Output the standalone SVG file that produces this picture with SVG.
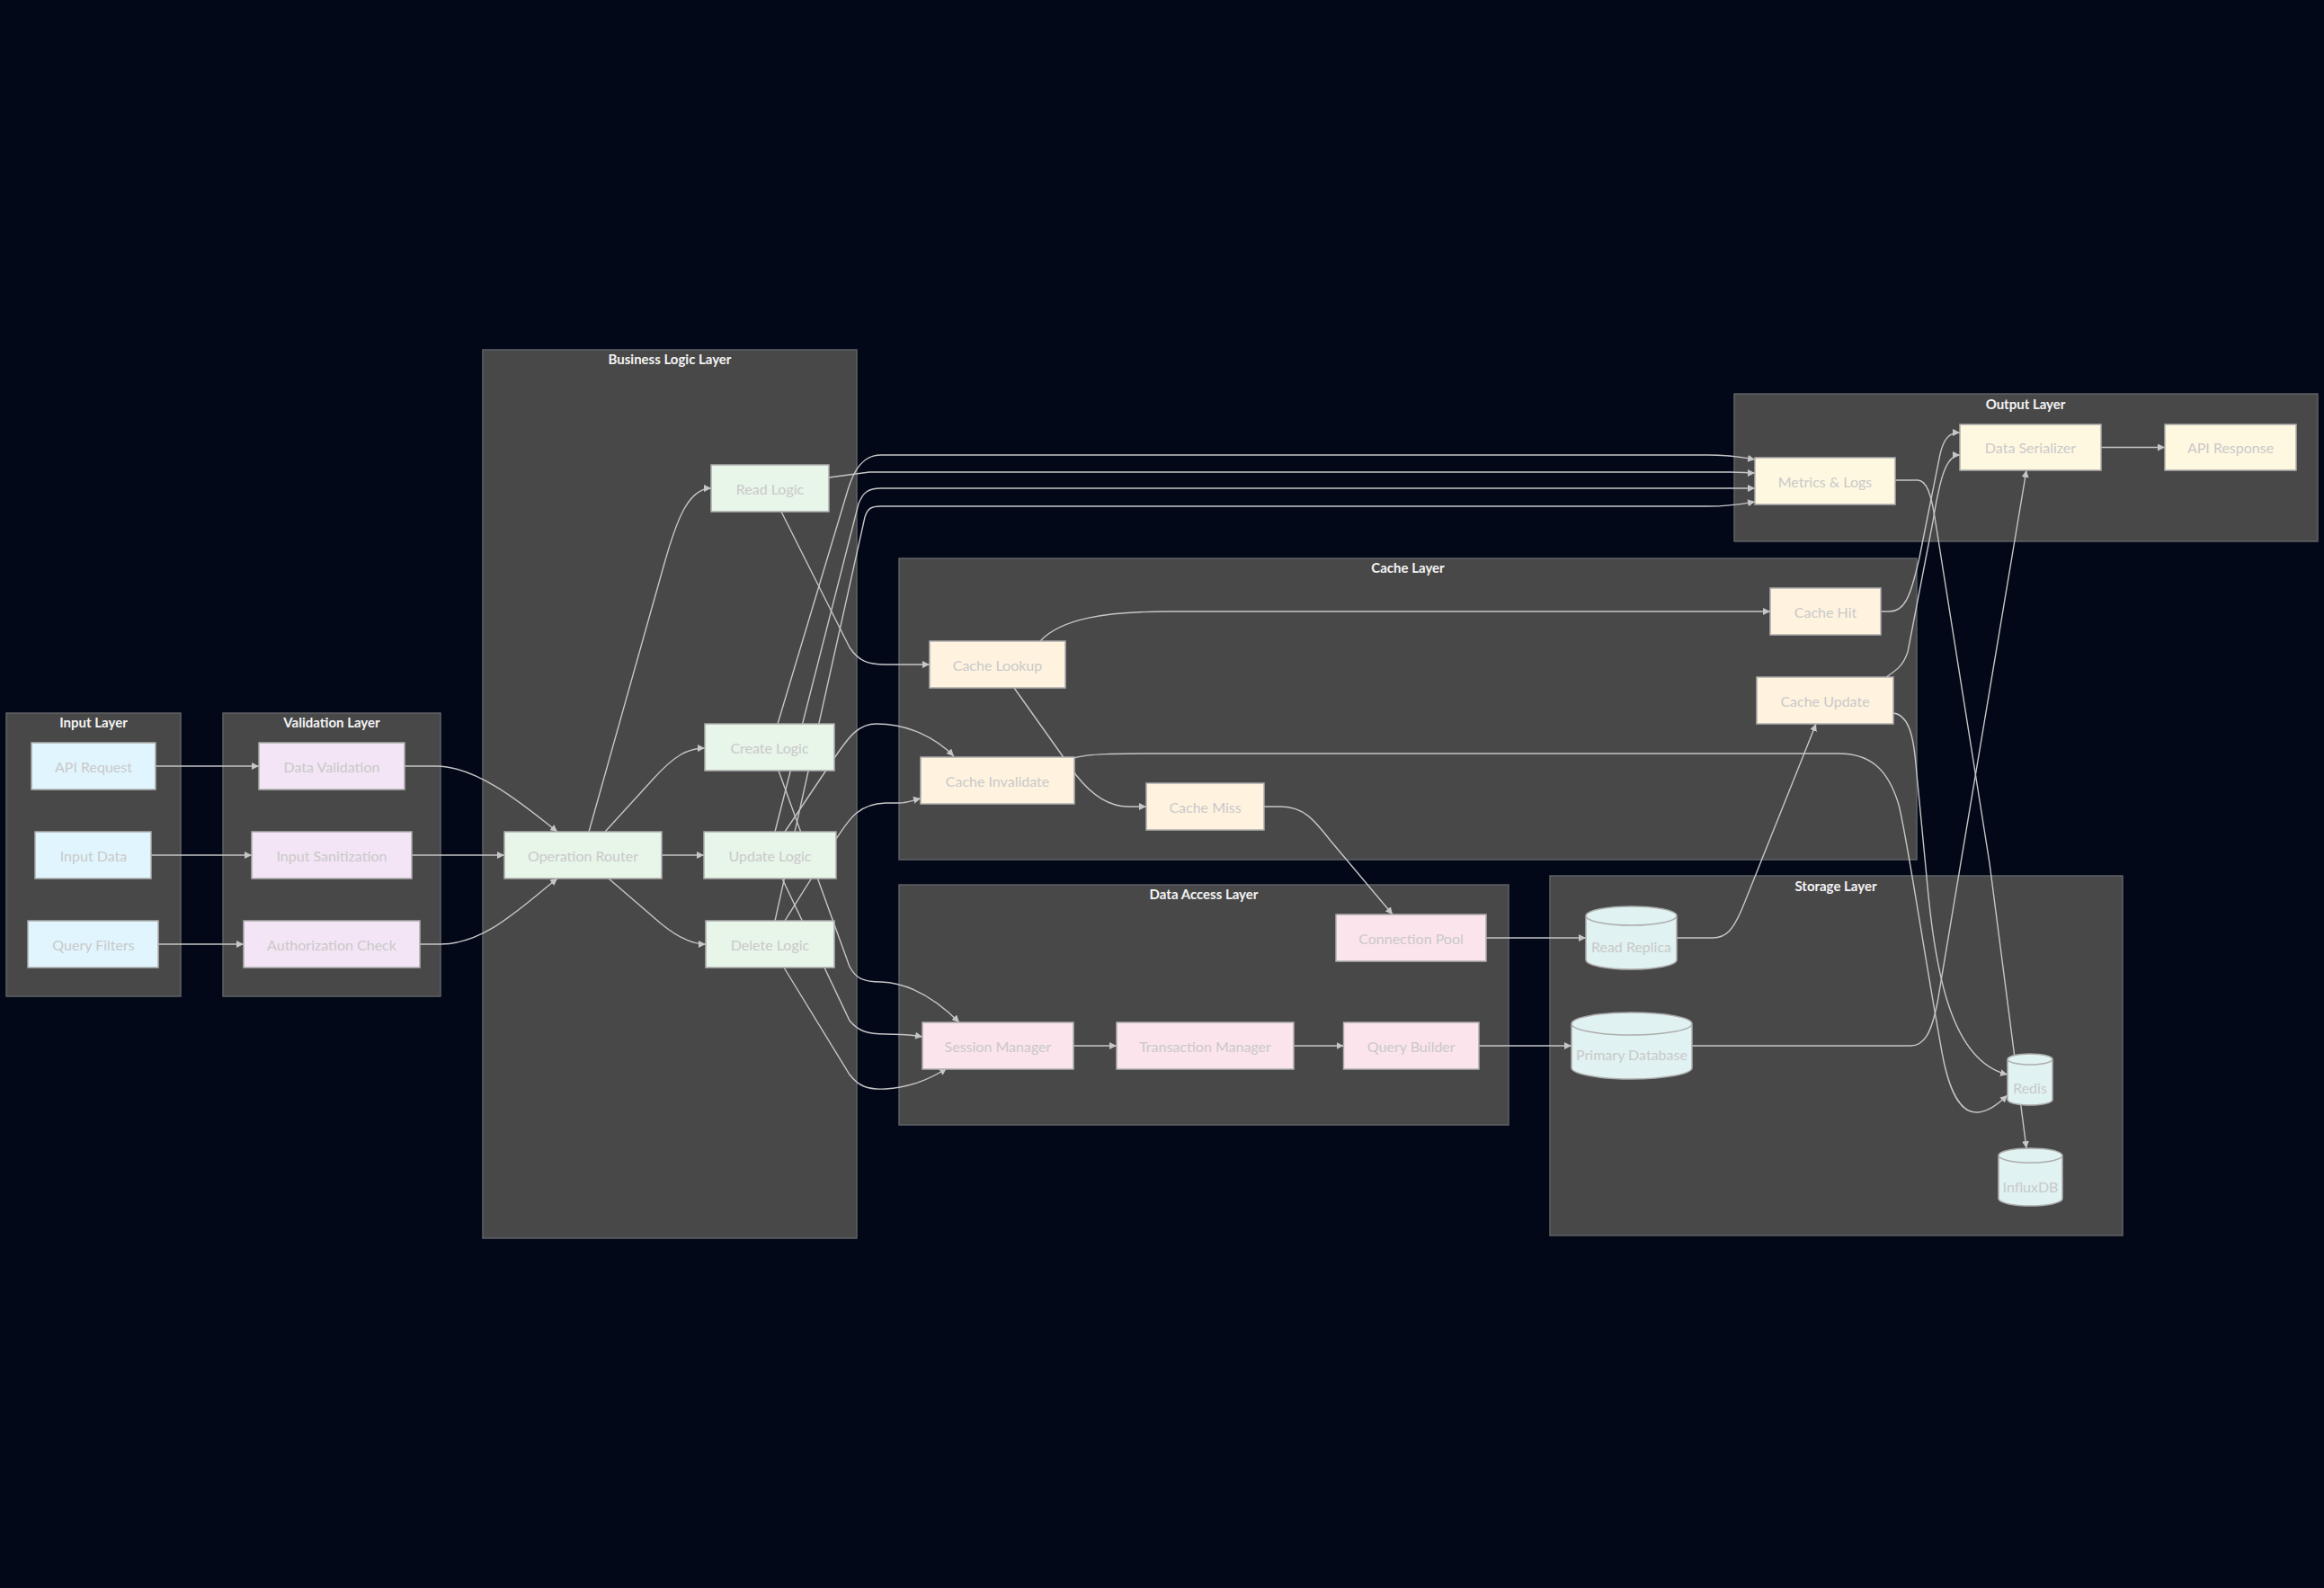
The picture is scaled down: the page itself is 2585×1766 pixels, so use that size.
<svg xmlns="http://www.w3.org/2000/svg" width="2585" height="1766" viewBox="0 0 2585 1766">
  <style>
    .cluster rect { fill: #484848; stroke: #5f6066; stroke-width: 1.5; }
    .cluster text { fill: #f4f4f4; font-family: Lato, "Liberation Sans", sans-serif; font-size: 15px; font-weight: bold; text-anchor: middle; }
    .node rect, .node path { stroke: #adadad; stroke-width: 1.5; }
    .node text { fill: #c9c9c9; font-family: Lato, "Liberation Sans", sans-serif; font-size: 16px; text-anchor: middle; dominant-baseline: central; }
    .input rect { fill: #e1f5fe; }
    .valid rect { fill: #f3e5f5; }
    .biz rect { fill: #e8f5e9; }
    .cache rect { fill: #fff3e0; }
    .dal rect { fill: #fce4ec; }
    .store path { fill: #e0f2f1; }
    .out rect { fill: #fff8e1; }
    .edges path { fill: none; stroke: #c6c6c6; stroke-width: 1.4; marker-end: url(#arrow); }
  </style>
  <defs>
    <marker id="arrow" viewBox="0 0 10 10" refX="10" refY="5" markerUnits="userSpaceOnUse" markerWidth="8" markerHeight="8" orient="auto">
      <path d="M0,0 L10,5 L0,10 z" fill="#c6c6c6"/>
    </marker>
  </defs>

  <rect width="2585" height="1766" fill="#020817"/>

  <!-- layer boxes -->
  <g id="clusters">
    <g class="cluster" id="input-layer">
      <rect x="7" y="793" width="194" height="315"/>
      <text x="104" y="809">Input Layer</text>
    </g>
    <g class="cluster" id="validation-layer">
      <rect x="248" y="793" width="242" height="315"/>
      <text x="369" y="809">Validation Layer</text>
    </g>
    <g class="cluster" id="business-layer">
      <rect x="537" y="389" width="416" height="988"/>
      <text x="745" y="405">Business Logic Layer</text>
    </g>
    <g class="cluster" id="cache-layer">
      <rect x="1000" y="621" width="1132" height="335"/>
      <text x="1566" y="637">Cache Layer</text>
    </g>
    <g class="cluster" id="data-access-layer">
      <rect x="1000" y="984" width="678" height="267"/>
      <text x="1339" y="1000">Data Access Layer</text>
    </g>
    <g class="cluster" id="storage-layer">
      <rect x="1724" y="974" width="637" height="400"/>
      <text x="2042" y="991">Storage Layer</text>
    </g>
    <g class="cluster" id="output-layer">
      <rect x="1929" y="438" width="649" height="164"/>
      <text x="2253" y="455">Output Layer</text>
    </g>
  </g>

  <!-- connectors -->
  <g class="edges" id="edges">
    <path d="M173,852 L288,852"/>
    <path d="M168,951 L280,951"/>
    <path d="M176,1050 L271,1050"/>
    <path d="M450,852 L485,852 C530,852 580,893 620,925"/>
    <path d="M458,951 L561,951"/>
    <path d="M467,1050 L490,1050 C540,1050 580,1008 620,977"/>
    <path d="M655,925 L738,630 C752,580 765,543 791,543"/>
    <path d="M673,925 L725,868 C750,840 765,832 784,832"/>
    <path d="M736,951 L783,951"/>
    <path d="M677,977 L735,1027 C752,1041 768,1050 785,1050"/>
    <path d="M869,569 L945,720 C955,735 965,739 985,739 L1034,739"/>
    <path d="M922,531 L967,525 L1925,525 C1935,525 1945,526 1952,526"/>
    <path d="M865,805 L943,545 C950,522 960,506 980,506 L1900,506 C1925,506 1940,509 1952,511"/>
    <path d="M862,925 L955,560 C960,548 965,543 980,543 L1952,543"/>
    <path d="M862,1024 L962,575 C965,566 968,563 980,563 L1900,563 C1925,563 1940,560 1952,558"/>
    <path d="M873,925 L928,843 C945,818 955,805 975,805 C1010,805 1040,820 1061,841"/>
    <path d="M873,1024 L930,933 C945,910 955,894 985,893 L1000,893 C1010,893 1015,890 1024,888"/>
    <path d="M866,857 L945,1075 C952,1088 960,1092 980,1092 C1010,1093 1040,1110 1067,1137"/>
    <path d="M870,977 L945,1135 C955,1147 965,1150 985,1150 C1000,1150 1015,1151 1026,1153"/>
    <path d="M872,1076 L945,1195 C955,1208 965,1212 985,1211 C1010,1210 1035,1200 1053,1188"/>
    <path d="M1194,1163 L1242,1163"/>
    <path d="M1439,1163 L1494.5,1163"/>
    <path d="M1157,713 C1180,688 1230,680 1300,680 L1969,680"/>
    <path d="M1128,765 L1197,862 C1215,885 1235,897 1255,897 L1275,897"/>
    <path d="M1406,897 L1425,897 C1450,897 1462,912 1480,935 L1549,1017"/>
    <path d="M1653,1043 L1764,1043"/>
    <path d="M1865,1043 L1905,1043 C1920,1043 1928,1035 1940,1005 L2020,805"/>
    <path d="M1645,1163 L1748,1163"/>
    <path d="M1882,1163 L2125,1163 C2140,1163 2148,1150 2155,1115 L2254,523"/>
    <path d="M2093,680 L2102,680 C2118,680 2125,665 2135,620 L2158,505 C2162,488 2168,481 2180,481"/>
    <path d="M2098,753 C2110,745 2117,740 2122,725 L2150,580 C2158,530 2165,506 2180,506"/>
    <path d="M2337,497.5 L2408,497.5"/>
    <path d="M2108,534 L2133,534 C2143,534 2148,550 2152,575 L2213,960 L2254,1277"/>
    <path d="M2106,793 C2122,795 2128,815 2131,850 L2143,975 C2152,1080 2170,1180 2233,1195"/>
    <path d="M1195,843 C1210,838 1240,838 1300,838 L2045,838 C2080,838 2100,855 2112,895 C2122,935 2140,1060 2160,1170 C2170,1225 2185,1238 2200,1237 C2212,1236 2222,1228 2233,1218"/>
  </g>

  <!-- input layer -->
  <g class="node input" id="api-request"><rect x="35" y="826" width="138" height="52"/><text x="104" y="852">API Request</text></g>
  <g class="node input" id="input-data"><rect x="39" y="925" width="129" height="52"/><text x="104" y="951">Input Data</text></g>
  <g class="node input" id="query-filters"><rect x="31" y="1024" width="145" height="52"/><text x="104" y="1050">Query Filters</text></g>

  <!-- validation layer -->
  <g class="node valid" id="data-validation"><rect x="288" y="826" width="162" height="52"/><text x="369" y="852">Data Validation</text></g>
  <g class="node valid" id="input-sanitization"><rect x="280" y="925" width="178" height="52"/><text x="369" y="951">Input Sanitization</text></g>
  <g class="node valid" id="authorization-check"><rect x="271" y="1024" width="196" height="52"/><text x="369" y="1050">Authorization Check</text></g>

  <!-- business logic layer -->
  <g class="node biz" id="operation-router"><rect x="561" y="925" width="175" height="52"/><text x="648.5" y="951">Operation Router</text></g>
  <g class="node biz" id="read-logic"><rect x="791" y="517" width="131" height="52"/><text x="856.5" y="543">Read Logic</text></g>
  <g class="node biz" id="create-logic"><rect x="784" y="805" width="144" height="52"/><text x="856" y="831">Create Logic</text></g>
  <g class="node biz" id="update-logic"><rect x="783" y="925" width="147" height="52"/><text x="856.5" y="951">Update Logic</text></g>
  <g class="node biz" id="delete-logic"><rect x="785" y="1024" width="143" height="52"/><text x="856.5" y="1050">Delete Logic</text></g>

  <!-- cache layer -->
  <g class="node cache" id="cache-lookup"><rect x="1034" y="713" width="151" height="52"/><text x="1109.5" y="739">Cache Lookup</text></g>
  <g class="node cache" id="cache-hit"><rect x="1969" y="654" width="123" height="52"/><text x="2030.5" y="680">Cache Hit</text></g>
  <g class="node cache" id="cache-update"><rect x="1954" y="753" width="152" height="52"/><text x="2030" y="779">Cache Update</text></g>
  <g class="node cache" id="cache-invalidate"><rect x="1024" y="842" width="171" height="52"/><text x="1109.5" y="868">Cache Invalidate</text></g>
  <g class="node cache" id="cache-miss"><rect x="1275" y="871" width="131" height="52"/><text x="1340.5" y="897">Cache Miss</text></g>

  <!-- data access layer -->
  <g class="node dal" id="connection-pool"><rect x="1486" y="1017" width="167" height="52"/><text x="1569.5" y="1043">Connection Pool</text></g>
  <g class="node dal" id="session-manager"><rect x="1026" y="1137" width="168" height="52"/><text x="1110" y="1163">Session Manager</text></g>
  <g class="node dal" id="transaction-manager"><rect x="1242" y="1137" width="197" height="52"/><text x="1340.5" y="1163">Transaction Manager</text></g>
  <g class="node dal" id="query-builder"><rect x="1494.5" y="1137" width="150.5" height="52"/><text x="1569.75" y="1163">Query Builder</text></g>

  <!-- storage layer -->
  <g class="node store" id="read-replica">
    <path d="M1764,1018.5 a50.5,10.5 0 0 0 101,0 a50.5,10.5 0 0 0 -101,0 l0,49 a50.5,10.5 0 0 0 101,0 l0,-49"/>
    <text x="1814.5" y="1052">Read Replica</text>
  </g>
  <g class="node store" id="primary-database">
    <path d="M1748,1138.5 a67,12.5 0 0 0 134,0 a67,12.5 0 0 0 -134,0 l0,49 a67,12.5 0 0 0 134,0 l0,-49"/>
    <text x="1815" y="1172">Primary Database</text>
  </g>
  <g class="node store" id="redis">
    <path d="M2233,1178 a25,6 0 0 0 50,0 a25,6 0 0 0 -50,0 l0,45 a25,6 0 0 0 50,0 l0,-45"/>
    <text x="2258" y="1209">Redis</text>
  </g>
  <g class="node store" id="influxdb">
    <path d="M2223,1285 a35.5,8 0 0 0 71,0 a35.5,8 0 0 0 -71,0 l0,48 a35.5,8 0 0 0 71,0 l0,-48"/>
    <text x="2258.5" y="1319">InfluxDB</text>
  </g>

  <!-- output layer -->
  <g class="node out" id="metrics-logs"><rect x="1952" y="509" width="156" height="52"/><text x="2030" y="535">Metrics &amp; Logs</text></g>
  <g class="node out" id="data-serializer"><rect x="2180" y="472" width="157" height="51"/><text x="2258.5" y="497.5">Data Serializer</text></g>
  <g class="node out" id="api-response"><rect x="2408" y="472" width="146" height="51"/><text x="2481" y="497.5">API Response</text></g>
</svg>
